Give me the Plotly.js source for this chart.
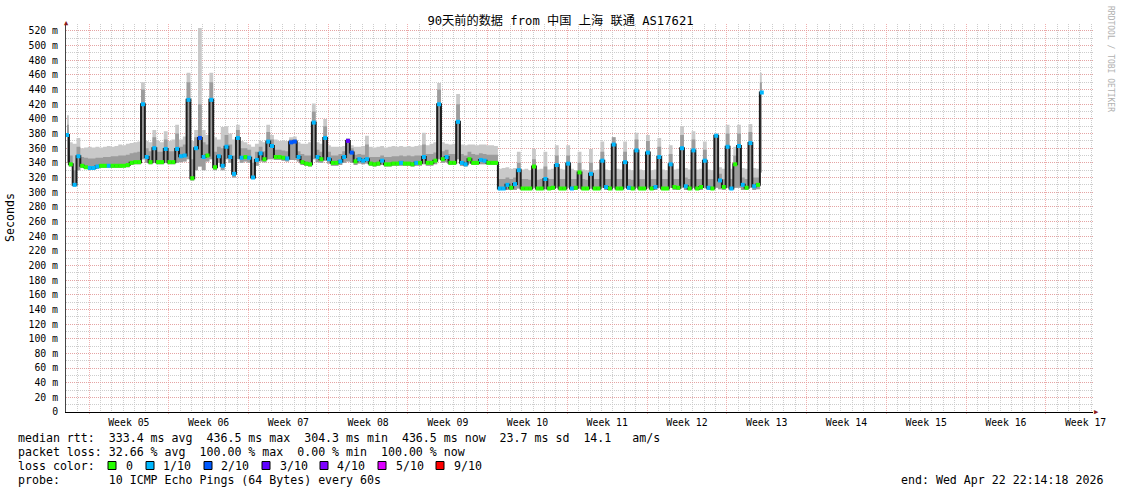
<!DOCTYPE html>
<html>
<head>
<meta charset="utf-8">
<script src="https://cdn.plot.ly/plotly-3.0.1.min.js"></script>
<style>html,body{margin:0;padding:0;background:#fff;}#chart{width:1121px;height:494px;}</style>
</head>
<body>
<div id="chart"></div>
<script>
// ---- data ----
const title = "90天前的数据 from 中国 上海 联通 AS17621";
const sampleStart = "2026-01-24 01:40:00";   // first sample time
const sampleStepHours = 8;                    // one sample every 8 hours
// median round-trip time per sample (ms)
const medianRtt = [378,338,310,349,336,334,333,333,335,336, 336,336,336,336,336,336,337,340,341,341,
 420,348,341,360,341,341,359,341,341,359, 349,350,426,319,360,374,348,350,426,334,
 349,336,362,348,325,374,347,348,347,320, 344,353,345,369,363,348,348,347,346,368,
 369,348,341,339,338,395,348,345,374,345, 340,340,342,348,370,354,342,345,343,345,
 339,338,339,343,338,338,339,339,340,339, 339,338,340,340,348,340,340,343,420,345,
 348,340,340,396,340,338,345,340,340,344, 343,340,340,340,305,305,310,306,311,330,
 305,305,305,335,305,305,318,305,306,337, 305,305,339,305,306,327,305,305,325,305,
 305,343,307,305,365,305,305,341,306,305, 357,305,305,354,305,307,348,305,305,338,
 307,306,360,308,305,357,305,307,343,306, 305,377,316,307,362,305,338,363,310,306,
 367,308,310,436];
// lost pings out of 10 per sample
const lossTenths = [1,0,1,1,0,0,1,1,1,0, 0,1,0,0,0,0,0,0,0,0,
 1,1,0,1,0,0,1,0,0,1, 1,1,1,0,1,2,1,0,1,0,
 1,1,1,1,1,1,1,0,1,1, 1,1,0,1,1,0,0,0,1,2,
 2,1,0,0,0,1,1,0,1,1, 0,0,1,1,3,2,0,1,1,1,
 0,0,0,1,0,0,0,0,1,0, 0,0,1,0,1,0,0,0,1,0,
 1,0,0,1,1,1,0,0,0,1, 1,0,0,0,1,1,1,0,1,1,
 0,0,0,0,0,0,1,0,0,1, 0,0,1,1,0,0,0,0,1,0,
 0,1,1,0,1,0,0,1,1,0, 1,0,0,1,0,1,1,0,0,1,
 0,0,1,1,0,1,0,0,1,1, 0,1,1,0,1,1,0,1,1,0,
 1,1,0,1];
// smoke: lowest ping, upper inner ping, highest ping (ms)
const smokeMin = [340,335,308,330,333,332,331,331,332,333, 333,333,333,333,333,334,334,337,338,338,
 345,340,338,340,338,338,340,338,338,340, 341,342,345,316,330,335,330,342,345,330,
 340,330,345,340,320,345,340,342,340,318, 336,342,341,345,345,344,344,343,342,344,
 344,342,337,336,335,345,341,340,343,339, 336,336,337,340,342,340,337,339,338,339,
 336,335,336,337,335,335,336,336,336,336, 336,335,336,336,338,336,336,338,345,340,
 341,337,337,345,336,335,339,337,337,338, 338,337,337,337,303,303,303,303,303,305,
 303,303,303,306,303,303,304,303,303,306, 303,303,306,303,303,305,303,303,305,303,
 303,306,303,303,306,303,303,306,303,303, 306,303,303,306,303,303,306,303,303,306,
 303,303,306,303,303,306,303,303,306,303, 303,306,304,303,306,303,306,306,303,303,
 306,303,304,327];
const smokeUpper = [392,350,330,362,348,347,346,346,347,347, 348,348,349,349,350,350,351,353,354,355,
 440,360,356,375,355,355,372,356,356,380, 362,365,450,345,375,420,368,365,450,355,
 362,360,378,365,350,385,360,360,358,340, 355,362,356,382,372,358,358,357,356,372,
 372,356,352,350,350,410,358,355,390,355, 350,350,352,356,372,360,351,352,351,365,
 348,348,348,350,348,348,349,349,350,349, 350,349,350,350,365,352,352,354,440,356,
 358,352,352,420,352,350,355,352,351,353, 352,351,351,351,318,318,320,318,320,340,
 318,318,317,345,317,318,335,318,318,350, 318,318,350,318,318,340,318,317,340,318,
 318,355,318,318,375,318,318,355,318,317, 372,318,318,370,318,318,362,318,318,352,
 318,318,378,320,318,372,318,318,358,318, 318,378,325,318,380,318,350,380,320,318,
 382,320,320,450];
const smokeMax = [405,368,366,374,360,361,362,361,362,361, 362,363,362,363,365,364,366,367,368,369,
 450,370,368,385,370,368,383,370,372,392, 372,376,463,370,385,524,385,378,463,375,
 372,389,390,380,372,392,370,368,365,362, 366,370,368,392,378,372,370,371,370,375,
 376,368,366,366,368,421,368,366,400,364, 362,362,362,363,374,364,362,362,363,377,
 362,361,362,363,361,362,363,362,363,362, 363,362,363,364,381,364,366,368,449,368,
 366,365,366,434,365,364,365,365,364,365, 365,364,364,363,332,333,334,332,333,355,
 331,332,330,359,331,332,355,331,332,364, 332,331,364,332,330,355,331,330,359,330,
 331,369,331,330,375,332,331,369,331,330, 381,331,330,378,330,331,374,331,330,364,
 331,332,390,333,331,383,331,332,369,331, 330,380,334,332,392,332,362,392,333,332,
 393,333,332,463];
const yTickVals = [0,20,40,60,80,100,120,140,160,180,200,220,240,260,280,300,320,340,360,380,400,420,440,460,480,500,520];
const yTickText = ["0","20 m","40 m","60 m","80 m","100 m","120 m","140 m","160 m","180 m","200 m","220 m","240 m","260 m","280 m","300 m","320 m","340 m","360 m","380 m","400 m","420 m","440 m","460 m","480 m","500 m","520 m"];
const lossLabels = ["0","1/10","2/10","3/10","4/10","5/10","9/10"];
const lossColors = {0:"#26ff00",1:"#00b8ff",2:"#0059ff",3:"#5e00ff",4:"#7e00ff",5:"#dd00ff",9:"#ff0000"};
const lossKeys = [0,1,2,3,4,5,9];
const statLine1 = "median rtt:  333.4 ms avg  436.5 ms max  304.3 ms min  436.5 ms now  23.7 ms sd  14.1   am/s";
const statLine2 = "packet loss: 32.66 % avg  100.00 % max  0.00 % min  100.00 % now";
const statLine3 = "loss color:";
const statLine4 = "probe:       10 ICMP Echo Pings (64 Bytes) every 60s";
const endText = "end: Wed Apr 22 22:14:18 2026";
const creditText = "RRDTOOL / TOBI OETIKER";

// ---- build ----
const FONT = '"DejaVu Sans Mono", "Noto Sans CJK SC", monospace';
const DAY = 86400000;
function fmt(ms){ return new Date(ms).toISOString().replace('T',' ').slice(0,19); }
const t0 = Date.parse(sampleStart.replace(' ','T') + 'Z');
const xs = medianRtt.map((_, i) => fmt(t0 + i * sampleStepHours * 3600000));
const weekStart = Date.UTC(2026,0,26);
const xRange = [fmt(weekStart - 2.019*DAY), fmt(weekStart + 88.15*DAY)];

// plot geometry (pixels) for overlay text placement
const L = 66, R = 28, T = 24, B = 82, W = 1121, H = 494;
const PW = W - L - R, PH = H - T - B;
const px = x => (x - L) / PW;
const py = y => (H - B - y) / PH;
const nb = s => s.replace(/ /g, '\u00a0');

const RED = 'rgba(236,150,150,0.75)';
const GRAY = 'rgba(200,200,200,0.9)';
const DASH = '1px,1px';

const base = {x: xs, type: 'scatter', mode: 'lines', hoverinfo: 'skip'};
const traces = [
  Object.assign({}, base, {y: smokeMin, line: {width: 0, shape: 'hvh'}}),
  Object.assign({}, base, {y: smokeMax, line: {width: 0, shape: 'hvh'}, fill: 'tonexty', fillcolor: '#c9c9c9'}),
  Object.assign({}, base, {y: smokeMin, line: {width: 0, shape: 'hvh'}}),
  Object.assign({}, base, {y: smokeUpper, line: {width: 0, shape: 'hvh'}, fill: 'tonexty', fillcolor: '#9c9c9c'}),
  Object.assign({}, base, {y: medianRtt, line: {width: 2, shape: 'hvh', color: '#1e1e1e'}}),
  {x: xs, y: medianRtt, type: 'scatter', mode: 'markers', hoverinfo: 'skip',
   marker: {symbol: 'square', size: 4, color: lossTenths.map(l => lossColors[l]), line: {width: 0}}}
];

const annotations = [
  {xref: 'paper', yref: 'paper', x: px(10), y: 0.5, text: 'Seconds', textangle: -90, showarrow: false,
   font: {family: FONT, size: 11.6, color: '#000'}, xanchor: 'center', yanchor: 'middle'},
  {xref: 'paper', yref: 'paper', x: px(1110), y: py(4), text: nb(creditText), textangle: 90, showarrow: false,
   font: {family: FONT, size: 8, color: '#b0b0b0'}, xanchor: 'center', yanchor: 'top'},
  {xref: 'paper', yref: 'paper', x: 0, y: py(23), text: '▲', showarrow: false,
   font: {family: FONT, size: 7, color: '#8b1a1a'}, xanchor: 'center', yanchor: 'middle'},
  {xref: 'paper', yref: 'paper', x: px(1096), y: 0, text: '▶', showarrow: false,
   font: {family: FONT, size: 7, color: '#8b1a1a'}, xanchor: 'center', yanchor: 'middle'},
  {xref: 'paper', yref: 'paper', x: px(16), y: py(438), text: nb(statLine1), showarrow: false, xanchor: 'left', yanchor: 'middle', font: {family: FONT, size: 11.6, color: '#000'}},
  {xref: 'paper', yref: 'paper', x: px(16), y: py(452), text: nb(statLine2), showarrow: false, xanchor: 'left', yanchor: 'middle', font: {family: FONT, size: 11.6, color: '#000'}},
  {xref: 'paper', yref: 'paper', x: px(16), y: py(466), text: nb(statLine3), showarrow: false, xanchor: 'left', yanchor: 'middle', font: {family: FONT, size: 11.6, color: '#000'}},
  {xref: 'paper', yref: 'paper', x: px(16), y: py(480), text: nb(statLine4), showarrow: false, xanchor: 'left', yanchor: 'middle', font: {family: FONT, size: 11.6, color: '#000'}},
  {xref: 'paper', yref: 'paper', x: px(1105), y: py(480), text: nb(endText), showarrow: false, xanchor: 'right', yanchor: 'middle', font: {family: FONT, size: 11.6, color: '#000'}}
];
const boxX = [108, 146, 204, 262, 320, 378, 436];
const labelX = [123.5, 161, 219, 277.5, 335, 393.5, 451.5];
const shapes = [];
lossKeys.forEach((k, j) => {
  shapes.push({type: 'rect', xref: 'paper', yref: 'paper', x0: px(boxX[j]), x1: px(boxX[j] + 8), y0: py(469.5), y1: py(461.5),
    fillcolor: lossColors[k], line: {color: '#000', width: 1}});
  annotations.push({xref: 'paper', yref: 'paper', x: px(labelX[j]), y: py(466), text: lossLabels[j], showarrow: false,
    xanchor: 'left', yanchor: 'middle', font: {family: FONT, size: 11.6, color: '#000'}});
});

const layout = {
  width: W, height: H,
  margin: {l: L, r: R, t: T, b: B, pad: 0},
  paper_bgcolor: '#ffffff', plot_bgcolor: '#ffffff',
  showlegend: false,
  font: {family: FONT, size: 11.6, color: '#000'},
  title: {text: title, font: {family: FONT, size: 12.2, color: '#000'}, x: 0.5, xref: 'container', xanchor: 'center',
          y: 1 - 21 / H, yref: 'container', yanchor: 'middle'},
  xaxis: {type: 'date', range: xRange, tick0: '2026-01-26', dtick: 7 * DAY, tickformat: 'Week %V', ticklabelmode: 'period',
          showgrid: true, gridcolor: RED, griddash: DASH, gridwidth: 1,
          minor: {tick0: '2026-01-26', dtick: DAY, showgrid: true, gridcolor: GRAY, griddash: DASH, gridwidth: 1},
          showline: true, linecolor: '#000', linewidth: 1, ticks: 'outside', ticklen: 1, tickcolor: RED,
          tickfont: {family: FONT, size: 9.8, color: '#000'}, zeroline: false, fixedrange: true},
  yaxis: {range: [0, 529.5], tickmode: 'array', tickvals: yTickVals, ticktext: yTickText,
          showgrid: true, gridcolor: RED, griddash: DASH, gridwidth: 1,
          minor: {tickmode: 'linear', tick0: 0, dtick: 10, showgrid: true, gridcolor: GRAY, griddash: DASH, gridwidth: 1},
          showline: true, linecolor: '#444', linewidth: 1, ticks: '', ticklabelstandoff: 5,
          tickfont: {family: FONT, size: 9.8, color: '#000'}, zeroline: false, fixedrange: true},
  annotations: annotations,
  shapes: shapes
};

Plotly.newPlot('chart', traces, layout, {staticPlot: true, displayModeBar: false});
</script>
</body>
</html>
